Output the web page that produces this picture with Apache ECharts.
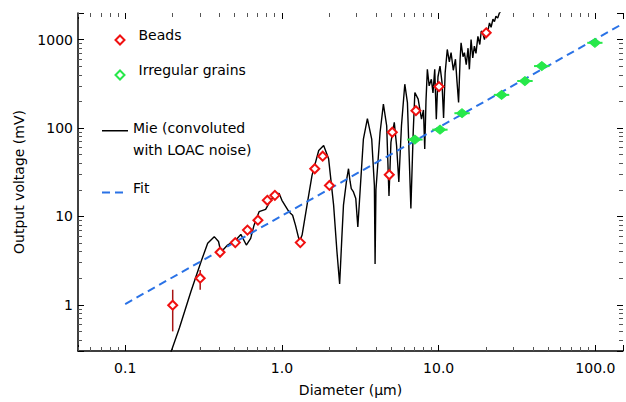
<!DOCTYPE html>
<html>
<head>
<meta charset="utf-8">
<script src="https://cdn.jsdelivr.net/npm/echarts@6/dist/echarts.min.js"></script>
<style>
html,body{margin:0;padding:0;background:#fff;}
#chart{width:626px;height:402px;}
</style>
</head>
<body>
<div id="chart"></div>
<script>
// ---- Data ----
// Mie curve (convoluted with LOAC noise)
const mieX = [0.19, 0.197, 0.222, 0.263, 0.305, 0.336, 0.37, 0.394, 0.408, 0.45, 0.508, 0.547, 0.593, 0.632, 0.664, 0.715, 0.787, 0.847, 0.933, 0.96,
  1.0, 1.107, 1.17, 1.22, 1.295, 1.345, 1.446, 1.556, 1.717, 1.846, 1.986, 2.137, 2.244, 2.335, 2.41, 2.47, 2.594, 2.66, 2.72, 2.77, 2.86, 2.96, 3.05, 3.16,
  3.31, 3.51, 3.74, 3.89, 3.93, 3.98, 4.23, 4.44, 4.66, 4.82, 4.96, 5.21, 5.39, 5.57, 5.79, 6.08, 6.32, 6.65, 6.88, 7.05, 7.4, 7.77, 8.0, 8.15, 8.3, 8.47,
  8.7, 8.98, 9.2, 9.44, 9.66, 9.9, 10.2, 10.5, 10.75, 11.0, 11.35, 11.7, 12.0, 12.4, 12.8, 13.1, 13.4, 13.7, 13.9, 14.3, 14.6, 15.0, 15.4, 15.7, 16.1,
  16.5, 16.9, 17.3, 17.8, 18.3, 18.7, 19.1, 19.6, 20.1, 20.6, 21.1, 21.6, 22.2, 22.7, 23.2, 23.8, 24.4, 25.0, 25.5];
const mieY = [0.25, 0.30, 0.55, 1.42, 3.09, 4.96, 5.9, 5.2, 3.93, 4.74, 5.4, 6.25, 4.74, 5.64, 7.96, 11.3, 12.0, 15.2, 18.1, 18.2,
  15.2, 11.3, 10.3, 7.96, 5.18, 6.15, 13.4, 29.1, 55.6, 63.2, 44.8, 13.4, 4.0, 1.72, 5.6, 13.4, 26.7, 34.6, 25, 20.6, 18.9, 15.9, 7.6, 20.6,
  75, 128, 75, 22.4, 2.9, 20, 89.5, 186, 106, 17, 69, 116, 63, 24.5, 106, 313, 194, 12.3, 89.5, 252, 212, 126, 160, 58, 200, 461,
  300, 356, 250, 461, 126, 380, 502, 330, 130, 420, 774, 560, 711, 450, 600, 330, 195, 600, 920, 640, 711, 520, 800, 461, 1000,
  620, 843, 700, 1090, 880, 1250, 1190, 1000, 1350, 1250, 1545, 1380, 1700, 1600, 1836, 1750, 2000, 2100, 2400];

// Beads (red)
const beadX = [0.201, 0.301, 0.403, 0.504, 0.603, 0.703, 0.807, 0.902, 1.31, 1.62, 1.82, 2.01, 4.84, 5.06, 7.16, 10.05, 20.1];
const beadY = [0.99, 2.0, 3.93, 5.05, 7.0, 9.06, 15.2, 17.3, 5.05, 34.6, 48, 22.4, 29.6, 89.5, 157, 294, 1194];
// Vertical error bars for beads (only the visible ones)
const beadErrX = [0.201, 0.301];
const beadErrLo = [0.50, 1.48];
const beadErrHi = [1.48, 2.48];

// Irregular grains (green)
const grainX = [7.05, 10.2, 14.1, 25.2, 35.5, 45.5, 99.3];
const grainY = [74, 95.7, 147, 237, 340, 502, 920];
const grainXLo = [6.3, 9.1, 12.6, 22.5, 31.7, 40.6, 88.7];
const grainXHi = [7.9, 11.4, 15.8, 28.2, 39.8, 51.0, 111];

// Fit line end points
const fitX = [0.1, 150];
const fitY = [1.02, 1517];

// Axis tick labels
const xTickValues = [0.1, 1, 10, 100];
const xTickLabels = ['0.1', '1.0', '10.0', '100.0'];
const yTickValues = [1, 10, 100, 1000];
const yTickLabels = ['1', '10', '100', '1000'];

// ---- Chart ----
const FONT = 'DejaVu Sans';
const RED = '#f01010';
const GREEN = '#27e84a';
const BLUE = '#2a72e6';

function labelFor(values, labels) {
  return function (v) {
    for (let i = 0; i < values.length; i++) {
      if (Math.abs(Math.log10(v) - Math.log10(values[i])) < 1e-6) return labels[i];
    }
    return '';
  };
}

const zip = (a, b) => a.map((v, i) => [v, b[i]]);

const baseX = {
  type: 'log', logBase: 10, min: 0.05, max: 150,
  splitLine: { show: false },
  minorSplitLine: { show: false },
  axisTick: { show: true, inside: true, length: 6, lineStyle: { color: '#000', width: 1 } },
  minorTick: { show: true, splitNumber: 9, length: 4, lineStyle: { color: '#555', width: 1 } }
};
const baseY = {
  type: 'log', logBase: 10, min: 0.3, max: 2000,
  splitLine: { show: false },
  minorSplitLine: { show: false },
  axisTick: { show: true, inside: true, length: 6, lineStyle: { color: '#000', width: 1 } },
  minorTick: { show: true, splitNumber: 9, length: 4, lineStyle: { color: '#555', width: 1 } }
};

const legendText = { fontFamily: FONT, fontSize: 14, color: '#000' };
// legend icons (the leading moveTo only pads the icon box so the symbol sits a little below its label)
const ICON_DIAMOND = 'path://M4.5,0 M4.5,10 L9,14.5 L4.5,19 L0,14.5 Z';
const ICON_SOLID = 'path://M0,0 M0,6.5 H26 V8 H0 Z';
const ICON_DASHED = 'path://M0,0 M0,9 H8 V11 H0 Z M13,9 H21 V11 H13 Z';

const option = {
  backgroundColor: '#fff',
  animation: false,
  textStyle: { fontFamily: FONT },
  grid: { left: 78, right: 0, top: 13, bottom: 49, containLabel: false },
  xAxis: [
    Object.assign({}, baseX, {
      position: 'bottom',
      name: 'Diameter (\u00b5m)', nameLocation: 'middle', nameGap: 32,
      nameTextStyle: { fontFamily: FONT, fontSize: 14, color: '#000' },
      axisLine: { show: true, lineStyle: { color: '#000', width: 1.5 } },
      axisLabel: { show: true, margin: 10, fontFamily: FONT, fontSize: 14, color: '#000',
        formatter: labelFor(xTickValues, xTickLabels), showMinLabel: true, showMaxLabel: true, hideOverlap: false }
    }),
    Object.assign({}, baseX, {
      position: 'top',
      axisLine: { show: false },
      axisLabel: { show: false }
    })
  ],
  yAxis: [
    Object.assign({}, baseY, {
      position: 'left',
      name: 'Output voltage (mV)', nameLocation: 'middle', nameGap: 52, nameRotate: 90,
      nameTextStyle: { fontFamily: FONT, fontSize: 14, color: '#000' },
      axisLine: { show: true, lineStyle: { color: '#000', width: 1.5 } },
      axisLabel: { show: true, margin: 5, fontFamily: FONT, fontSize: 14, color: '#000',
        formatter: labelFor(yTickValues, yTickLabels), hideOverlap: false }
    }),
    Object.assign({}, baseY, {
      position: 'right',
      axisLine: { show: false },
      axisLabel: { show: false }
    })
  ],
  legend: [
    {
      data: [{ name: 'Beads', icon: ICON_DIAMOND,
        itemStyle: { color: '#fff', borderColor: RED, borderWidth: 2 } }],
      left: 114.5, top: 24.5, padding: 0, itemWidth: 9, itemHeight: 19,
      textStyle: Object.assign({ padding: [0, 0, 0, 9] }, legendText)
    },
    {
      data: [{ name: 'Irregular grains', icon: ICON_DIAMOND,
        itemStyle: { color: '#fff', borderColor: GREEN, borderWidth: 2 } }],
      left: 114.5, top: 59.5, padding: 0, itemWidth: 9, itemHeight: 19,
      textStyle: Object.assign({ padding: [0, 0, 0, 9] }, legendText)
    },
    {
      data: [{ name: 'Mie (convoluted with LOAC noise)', icon: ICON_SOLID,
        itemStyle: { color: '#000', borderWidth: 0 } }],
      left: 102, top: 120.5, padding: 0, itemWidth: 26, itemHeight: 8,
      formatter: function () { return 'Mie (convoluted'; },
      textStyle: legendText
    },
    {
      data: [{ name: 'Fit', icon: ICON_DASHED,
        itemStyle: { color: BLUE, borderWidth: 0 } }],
      left: 102, top: 181, padding: 0, itemWidth: 21, itemHeight: 11,
      textStyle: Object.assign({ padding: [0, 0, 0, 5] }, legendText)
    }
  ],
  graphic: [
    { type: 'text', left: 133, top: 143,
      style: { text: 'with LOAC noise)', font: '14px "DejaVu Sans"', fill: '#000' } }
  ],
  series: [
    {
      name: 'Mie (convoluted with LOAC noise)', type: 'line',
      data: zip(mieX, mieY), showSymbol: false, symbol: 'none',
      lineStyle: { color: '#000', width: 1.4 }, itemStyle: { color: '#000' },
      clip: true, z: 2
    },
    {
      name: 'Fit', type: 'line', data: zip(fitX, fitY), showSymbol: false, symbol: 'none',
      lineStyle: { color: BLUE, width: 2, type: [8, 5] }, itemStyle: { color: BLUE },
      clip: true, z: 3
    },
    {
      name: 'beadErr', type: 'custom',
      data: beadErrX.map((x, i) => [x, beadErrLo[i], beadErrHi[i]]),
      encode: { x: 0, y: [1, 2] },
      renderItem: function (params, api) {
        const p1 = api.coord([api.value(0), api.value(1)]);
        const p2 = api.coord([api.value(0), api.value(2)]);
        return { type: 'line', shape: { x1: p1[0], y1: p1[1], x2: p2[0], y2: p2[1] },
          style: { stroke: '#a81414', lineWidth: 1.5 } };
      },
      z: 4, silent: true
    },
    {
      name: 'grainErr', type: 'custom',
      data: grainX.map((x, i) => [grainXLo[i], grainXHi[i], grainY[i]]),
      encode: { x: [0, 1], y: 2 },
      renderItem: function (params, api) {
        const p1 = api.coord([api.value(0), api.value(2)]);
        const p2 = api.coord([api.value(1), api.value(2)]);
        return { type: 'line', shape: { x1: p1[0], y1: p1[1], x2: p2[0], y2: p2[1] },
          style: { stroke: GREEN, lineWidth: 2 } };
      },
      z: 4, silent: true
    },
    {
      name: 'Beads', type: 'scatter', data: zip(beadX, beadY),
      symbol: 'diamond', symbolSize: 9,
      itemStyle: { color: '#fff', borderColor: RED, borderWidth: 2, opacity: 1 },
      z: 6
    },
    {
      name: 'Irregular grains', type: 'scatter', data: zip(grainX, grainY),
      symbol: 'diamond', symbolSize: [11, 9],
      itemStyle: { color: GREEN, borderColor: GREEN, borderWidth: 1, opacity: 1 },
      z: 5
    }
  ]
};

const chart = echarts.init(document.getElementById('chart'), null, { renderer: 'svg' });
chart.setOption(option);
</script>
</body>
</html>
